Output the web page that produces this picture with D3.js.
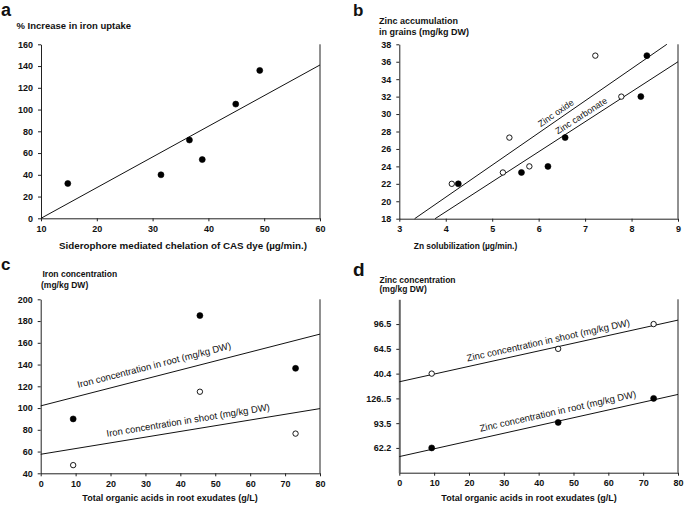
<!DOCTYPE html>
<html><head><meta charset="utf-8">
<script src="https://cdn.jsdelivr.net/npm/d3@7"></script>
<style>
html,body{margin:0;padding:0;background:#fff;}
svg{display:block;font-family:"Liberation Sans",Arial,sans-serif;}
</style></head>
<body><svg id="c" width="685" height="509"></svg>
<script>
// ---- Panel a data ----
const aX = [14.8, 31.5, 36.6, 38.9, 44.9, 49.2];
const aY = [32, 40, 72, 54, 105, 136];
const aLineX = [10, 60];
const aLineY = [0, 141];
const aXTicks = [10, 20, 30, 40, 50, 60];
const aYTicks = [0, 20, 40, 60, 80, 100, 120, 140, 160];

// ---- Panel b data ----
const bOpenX = [4.13, 5.23, 5.37, 5.8, 7.22, 7.78];
const bOpenY = [22, 23.3, 27.3, 24, 36.7, 32];
const bFillX = [4.27, 5.63, 6.2, 6.57, 8.2, 8.33];
const bFillY = [22, 23.3, 24, 27.3, 32, 36.7];
const bOxideX = [3.33, 8.76];
const bOxideY = [18, 38];
const bCarbX = [3.77, 9];
const bCarbY = [18, 36];
const bXTicks = [3, 4, 5, 6, 7, 8, 9];
const bYTicks = [18, 20, 22, 24, 26, 28, 30, 32, 34, 36, 38];

// ---- Panel c data ----
const cX = [9.3, 45.6, 73];
const cRoot = [90, 185, 136.5];
const cShoot = [47.5, 115, 76.5];
const cRootLineX = [0, 80];
const cRootLineY = [102, 168];
const cShootLineX = [0, 80];
const cShootLineY = [57.5, 99.5];
const cXTicks = [0, 10, 20, 30, 40, 50, 60, 70, 80];
const cYTicks = [40, 60, 80, 100, 120, 140, 160, 180, 200];

// ---- Panel d data (y in tick-position units) ----
const dX = [9.3, 45.6, 73];
const dShoot = [4, 5, 6];
const dRoot = [1, 2.03, 3];
const dShootLineX = [0, 80];
const dShootLineY = [3.67, 6.16];
const dRootLineX = [0, 80];
const dRootLineY = [0.65, 3.16];
const dXTicks = [0, 10, 20, 30, 40, 50, 60, 70, 80];
const dYTickPos = [1, 2, 3, 4, 5, 6];
const dYTickLabels = ["62.2", "93.5", "126..5", "40.4", "64.5", "96.5"];

const svg = d3.select("#c");
const FONT = "'Liberation Sans',Arial,sans-serif";

function panel(o) {
  const g = svg.append("g");
  const x = d3.scaleLinear().domain(o.xd).range([o.x0, o.x1]);
  const y = d3.scaleLinear().domain(o.yd).range([o.y1, o.y0]);
  const xa = d3.axisBottom(x).tickValues(o.xt).tickSizeInner(3).tickSizeOuter(0).tickPadding(4);
  const ya = d3.axisLeft(y).tickValues(o.yt).tickSizeInner(3).tickSizeOuter(0).tickPadding(5);
  if (o.yfmt) ya.tickFormat(o.yfmt); else ya.tickFormat(d3.format("d"));
  xa.tickFormat(d3.format("d"));
  const gx = g.append("g").attr("transform", `translate(0,${o.y1})`).call(xa);
  const gy = g.append("g").attr("transform", `translate(${o.x0},0)`).call(ya);
  [gx, gy].forEach(a => {
    a.selectAll("text").attr("font-family", FONT).attr("font-weight", "bold").attr("font-size", 9).attr("fill", "#111");
    a.selectAll("line,path").attr("stroke", "#222");
  });
  if (o.thickY) gy.select("path").attr("stroke", "#666").attr("stroke-width", 2);
  // right border
  g.append("line").attr("x1", o.x1).attr("x2", o.x1).attr("y1", y(o.yd[1])).attr("y2", o.y1)
    .attr("stroke", "#222").attr("stroke-width", 1);
  return { g, x, y };
}

function trend(p, xs, ys) {
  p.g.append("line").attr("x1", p.x(xs[0])).attr("y1", p.y(ys[0]))
    .attr("x2", p.x(xs[1])).attr("y2", p.y(ys[1]))
    .attr("stroke", "#111").attr("stroke-width", 1);
}
function dots(p, xs, ys, filled) {
  p.g.selectAll(null).data(xs.map((v, i) => [v, ys[i]])).join("circle")
    .attr("cx", d => p.x(d[0])).attr("cy", d => p.y(d[1]))
    .attr("r", filled ? 3 : 2.7)
    .attr("fill", filled ? "#000" : "#fff")
    .attr("stroke", "#000").attr("stroke-width", filled ? 0.6 : 0.9);
}
function lineLabel(p, xs, ys, atX, off, txt, size) {
  const px0 = p.x(xs[0]), py0 = p.y(ys[0]), px1 = p.x(xs[1]), py1 = p.y(ys[1]);
  const ang = Math.atan2(py1 - py0, px1 - px0) * 180 / Math.PI;
  const t = (atX - xs[0]) / (xs[1] - xs[0]);
  const lx = px0 + t * (px1 - px0), ly = py0 + t * (py1 - py0);
  p.g.append("text").attr("transform", `translate(${lx},${ly}) rotate(${ang})`)
    .attr("y", -off).attr("font-family", FONT).attr("font-size", size || 9.5).attr("fill", "#111")
    .text(txt);
}
function txt(x, y, s, size, weight, anchor) {
  svg.append("text").attr("x", x).attr("y", y).attr("font-family", FONT)
    .attr("font-size", size).attr("font-weight", weight || "bold")
    .attr("text-anchor", anchor || "start").attr("fill", "#111").text(s);
}

// Panel a
const pa = panel({ xd: [10, 60], yd: [0, 160], x0: 41, x1: 320, y0: 44.3, y1: 218.3, xt: aXTicks, yt: aYTicks });
trend(pa, aLineX, aLineY);
dots(pa, aX, aY, true);
txt(1, 16, "a", 18);
txt(16.5, 29, "% Increase in iron uptake", 9.5);
txt(183, 249, "Siderophore mediated chelation of CAS dye (µg/min.)", 9.8, "bold", "middle");

// Panel b
const pb = panel({ xd: [3, 9], yd: [18, 38], x0: 399.3, x1: 678, y0: 44.3, y1: 218.7, xt: bXTicks, yt: bYTicks });
trend(pb, bOxideX, bOxideY);
trend(pb, bCarbX, bCarbY);
dots(pb, bOpenX, bOpenY, false);
dots(pb, bFillX, bFillY, true);
lineLabel(pb, bOxideX, bOxideY, 6.09, 3.5, "Zinc oxide", 9);
lineLabel(pb, bCarbX, bCarbY, 6.46, 4, "Zinc carbonate", 9);
txt(353, 16, "b", 17);
txt(379, 24, "Zinc accumulation", 9);
txt(379, 34.5, "in grains  (mg/kg DW)", 9);
txt(465.5, 249, "Zn solubilization (µg/min.)", 8.4, "bold", "middle");

// Panel c
const pc = panel({ xd: [0, 80], yd: [40, 200], x0: 40.7, x1: 320, y0: 299.3, y1: 473.3, xt: cXTicks, yt: cYTicks });
trend(pc, cRootLineX, cRootLineY);
trend(pc, cShootLineX, cShootLineY);
dots(pc, cX, cRoot, true);
dots(pc, cX, cShoot, false);
lineLabel(pc, cRootLineX, cRootLineY, 11.3, 8, "Iron concentration in root (mg/kg DW)", 9.5);
lineLabel(pc, cShootLineX, cShootLineY, 19.3, 6.5, "Iron concentration in shoot (mg/kg DW)", 9.5);
txt(1, 269.5, "c", 17);
txt(42.5, 277, "Iron concentration", 8.5);
txt(41, 288, " (mg/kg DW)", 8.5);
txt(170, 501, "Total organic acids in root exudates (g/L)", 9, "bold", "middle");

// Panel d
const pd = panel({ xd: [0, 80], yd: [0, 7], x0: 399.3, x1: 678, y0: 299.3, y1: 472.7, xt: dXTicks, yt: dYTickPos,
  yfmt: (d, i) => dYTickLabels[i], thickY: true });
trend(pd, dShootLineX, dShootLineY);
trend(pd, dRootLineX, dRootLineY);
dots(pd, dX, dShoot, false);
dots(pd, dX, dRoot, true);
lineLabel(pd, dShootLineX, dShootLineY, 19.9, 5, "Zinc concentration in shoot (mg/kg DW)", 9.5);
lineLabel(pd, dRootLineX, dRootLineY, 23.7, 6.5, "Zinc concentration in root (mg/kg DW)", 9.5);
txt(353, 276, "d", 19);
txt(379.5, 282.5, "Zinc concentration", 8.5);
txt(379.5, 292, "(mg/kg DW)", 8.5);
txt(529, 501, "Total organic acids in root exudates (g/L)", 9, "bold", "middle");
</script></body></html>
